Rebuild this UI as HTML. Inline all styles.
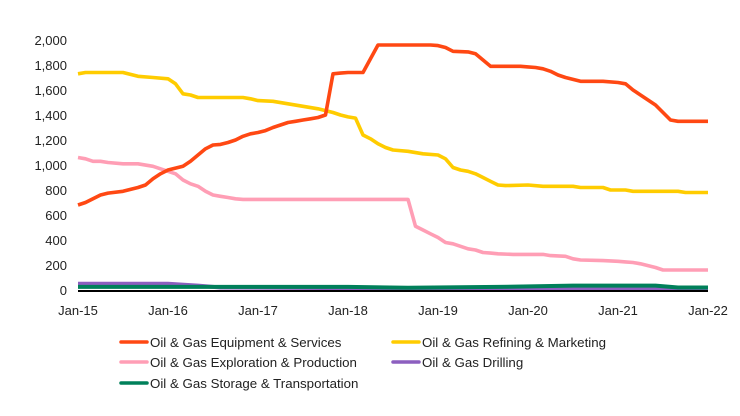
<!DOCTYPE html>
<html><head><meta charset="utf-8">
<style>
html,body{margin:0;padding:0;background:#fff;}
svg{display:block;font-family:"Liberation Sans",sans-serif;}
</style></head>
<body>
<svg id="chart" width="740" height="416" viewBox="0 0 740 416" xmlns="http://www.w3.org/2000/svg">
<g id="grid"></g>
<g id="xaxis"></g>
<g id="series"></g>
<g id="legend"></g>
</svg>
<script>
const yTicks = [0,200,400,600,800,1000,1200,1400,1600,1800,2000];
const xTickLabels = ["Jan-15","Jan-16","Jan-17","Jan-18","Jan-19","Jan-20","Jan-21","Jan-22"];
const seriesNames = ["Oil & Gas Equipment & Services","Oil & Gas Refining & Marketing","Oil & Gas Exploration & Production","Oil & Gas Drilling","Oil & Gas Storage & Transportation"];
const seriesColors = ["#ff4813","#ffcc00","#ff9eb5","#8c5fbf","#00805a"];
// month index (0 = Jan-15) and values
const equipMonths = [0,1,3,4,6,8,9,10,11,12,13,14,15,16,17,18,19,20,21,22,23,24,25,26,27,28,29,30,31,32,33,34,35,36,38,39,40,47,48,49,50,52,53,55,59,60,61,62,63,64,65,67,70,72,73,74,75,76,77,78,79,80,84];
const equipValues = [680,700,760,775,790,820,840,890,930,960,975,990,1030,1080,1130,1160,1165,1180,1200,1230,1250,1260,1275,1300,1320,1340,1350,1360,1370,1380,1400,1730,1735,1740,1740,1850,1960,1960,1955,1940,1910,1905,1890,1790,1790,1785,1780,1770,1750,1720,1700,1670,1670,1660,1650,1600,1560,1520,1480,1420,1360,1350,1350];
const refMonths = [0,1,6,8,10,12,13,14,15,16,22,23,24,26,28,30,32,34,35,36,37,38,39,40,41,42,44,46,48,49,50,51,52,53,54,55,56,57,60,62,66,67,70,71,73,74,80,81,84];
const refValues = [1730,1740,1740,1710,1700,1690,1650,1570,1560,1540,1540,1530,1515,1510,1490,1470,1450,1420,1400,1385,1375,1240,1210,1170,1140,1120,1110,1090,1080,1050,980,960,950,930,900,870,840,835,840,830,830,820,820,800,800,790,790,780,780];
const expMonths = [0,1,2,3,4,6,8,10,11,12,13,14,15,16,17,18,19,20,21,22,44,45,46,47,48,49,50,51,52,53,54,55,56,58,62,63,65,66,67,70,72,73,74,75,76,77,78,84];
const expValues = [1060,1050,1030,1030,1020,1010,1010,990,970,950,930,880,850,830,790,760,750,740,730,725,725,510,480,450,420,380,370,350,330,320,300,295,290,285,285,275,270,250,240,235,230,225,220,210,195,180,160,160];
const drillMonths = [0,12,16,19,36,48,84];
const drillValues = [50,50,35,20,15,10,10];
const storMonths = [0,36,44,56,66,77,80,84];
const storValues = [25,25,18,25,35,35,20,20];

const X0=78, X1=708, Y0=290, Y1=40;
const xScale = m => X0 + (X1-X0)*m/84;
const yScale = v => Y0 - (Y0-Y1)*v/2000;
const NS="http://www.w3.org/2000/svg";
function mk(tag, attrs, parent){const e=document.createElementNS(NS,tag);for(const k in attrs)e.setAttribute(k,attrs[k]);parent.appendChild(e);return e;}

const grid=document.getElementById('grid');
yTicks.forEach(v=>{
  const t=mk('text',{x:67,y:yScale(v)+5,'text-anchor':'end','font-size':13,fill:'#222'},grid);
  t.textContent=v.toLocaleString('en-US');
  
  
});
const xa=document.getElementById('xaxis');
xTickLabels.forEach((l,i)=>{
  const t=mk('text',{x:xScale(i*12),y:315,'text-anchor':'middle','font-size':13,fill:'#222'},xa);
  t.textContent=l;
  
  
});

const sg=document.getElementById('series');
const allM=[equipMonths,refMonths,expMonths,drillMonths,storMonths];
const allV=[equipValues,refValues,expValues,drillValues,storValues];
const order=[3,4,2,1,0];
order.forEach(i=>{
  const d=allM[i].map((m,j)=>(j?'L':'M')+xScale(m).toFixed(1)+','+yScale(allV[i][j]).toFixed(1)).join(' ');
  const p=mk('path',{d:d,fill:'none',stroke:seriesColors[i],'stroke-width':i>=3?4:3.6,'stroke-linejoin':'round'},sg);
  
  
});
const base=mk('line',{x1:X0,x2:X1,y1:Y0+1,y2:Y0+1,stroke:'#000','stroke-width':2},sg);



const lg=document.getElementById('legend');
const pos=[[121,342],[393,342],[121,362],[393,362],[121,383]];
seriesNames.forEach((n,i)=>{
  const [x,y]=pos[i];
  const g=mk('g',{},lg);
  
  
  mk('line',{x1:x,x2:x+26,y1:y,y2:y,stroke:seriesColors[i],'stroke-width':3.5,'stroke-linecap':'round'},g);
  const t=mk('text',{x:x+29,y:y+5,'font-size':13.3,fill:'#222'},g);
  t.textContent=n;
});
</script>
</body></html>
